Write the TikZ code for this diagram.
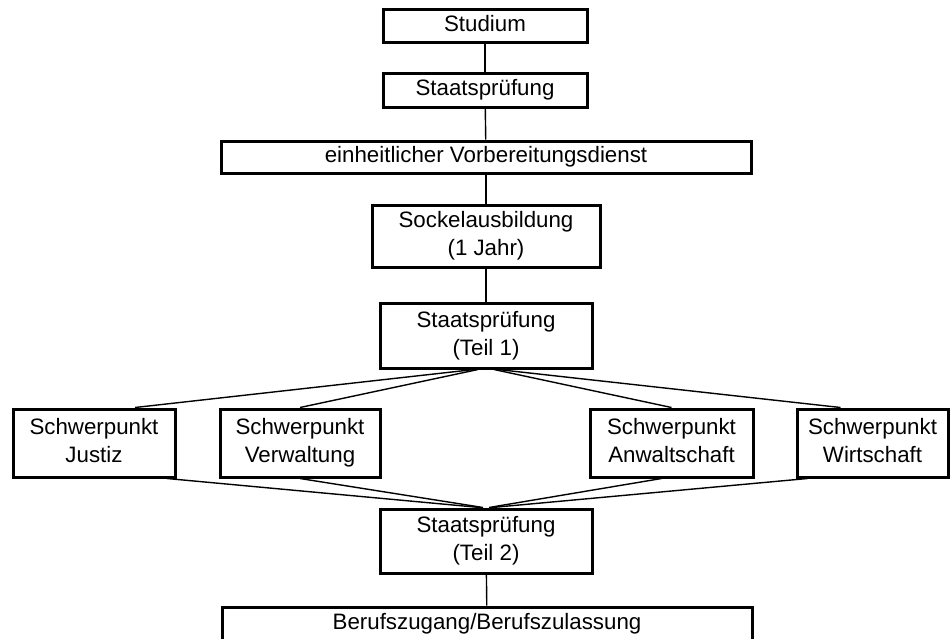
\documentclass[tikz,border=0pt]{standalone}
\usepackage{fontspec}
\setmainfont{Liberation Sans}
\begin{document}
\begin{tikzpicture}[x=1pt,y=-1pt,
  box/.style={draw=black,line width=3pt,fill=white,inner sep=0pt,align=center,
    font=\fontsize{22.3}{28}\selectfont},
  conn/.style={draw=black,line width=1.4pt}]
\useasboundingbox (0,0) rectangle (950,638);
% nodes
\node[box,minimum width=204pt,minimum height=33pt] (stud) at (485,25.5) {Studium\strut};
\node[box,minimum width=204pt,minimum height=34pt] (sp) at (485,90) {Staatsprüfung\strut};
\node[box,minimum width=530pt,minimum height=32pt] (evd) at (486,157) {einheitlicher Vorbereitungsdienst\strut};
\node[box,minimum width=228pt,minimum height=62pt] (sock) at (486,236) {Sockelausbildung\strut\\(1 Jahr)\strut};
\node[box,minimum width=212pt,minimum height=65pt] (t1) at (486,335.5) {Staatsprüfung\strut\\(Teil 1)\strut};
\node[box,minimum width=162pt,minimum height=68pt] (sj) at (94,443) {Schwerpunkt\strut\\Justiz\strut};
\node[box,minimum width=160pt,minimum height=68pt] (sv) at (300,443) {Schwerpunkt\strut\\Verwaltung\strut};
\node[box,minimum width=163pt,minimum height=68pt] (sa) at (671.5,443) {Schwerpunkt\strut\\Anwaltschaft\strut};
\node[box,minimum width=151pt,minimum height=68pt] (sw) at (872.5,443) {Schwerpunkt\strut\\Wirtschaft\strut};
\node[box,minimum width=212pt,minimum height=64pt] (t2) at (486,541) {Staatsprüfung\strut\\(Teil 2)\strut};
\node[box,minimum width=530pt,minimum height=34pt] (bz) at (487,624) {Berufszugang/Berufszulassung\strut};
% vertical connectors
\draw[conn] (stud) -- (sp);
\draw[conn] (sp) -- (evd);
\draw[conn] (evd) -- (sock);
\draw[conn] (sock) -- (t1);
\draw[conn] (t2) -- (bz);
% fan out
\draw[conn] ([xshift=-12pt]t1.south) -- ([xshift=41pt]sj.north);
\draw[conn] ([xshift=-8pt]t1.south) -- (sv.north);
\draw[conn] ([xshift=8pt]t1.south) -- (sa.north);
\draw[conn] ([xshift=12pt]t1.south) -- ([xshift=-32pt]sw.north);
% fan in
\draw[conn] ([xshift=-6pt]t2.north) -- ([xshift=73pt]sj.south);
\draw[conn] ([xshift=-3pt]t2.north) -- (sv.south);
\draw[conn] ([xshift=3pt]t2.north) -- ([xshift=-10pt]sa.south);
\draw[conn] ([xshift=6pt]t2.north) -- ([xshift=-65pt]sw.south);
\end{tikzpicture}
\end{document}
